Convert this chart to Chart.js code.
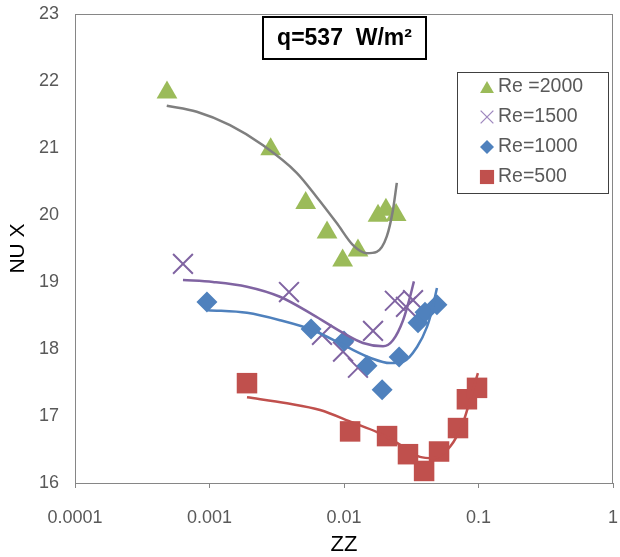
<!DOCTYPE html>
<html>
<head>
<meta charset="utf-8">
<script src="https://cdn.jsdelivr.net/npm/chart.js@4.4.1/dist/chart.umd.min.js"></script>
<style>
html,body{margin:0;padding:0;background:#fff;}
#wrap{width:620px;height:557px;position:relative;}
</style>
</head>
<body>
<div id="wrap"><canvas id="c" width="620" height="557"></canvas></div>
<script>
// ---- data ----
const seriesNames = ['Re =2000', 'Re=1500', 'Re=1000', 'Re=500'];
const titleText = 'q=537  W/m\u00B2';
const xTickValues = [0.0001, 0.001, 0.01, 0.1, 1];
const xTickLabels = ['0.0001', '0.001', '0.01', '0.1', '1'];

const zz2000 = [0.000483, 0.00285, 0.00519, 0.00748, 0.00977, 0.0127, 0.0179, 0.0205, 0.0244];
const nu2000 = [21.83, 20.98, 20.18, 19.74, 19.32, 19.47, 19.99, 20.08, 20.00];
const zz1500 = [0.000635, 0.0039, 0.00686, 0.00984, 0.0127, 0.01644, 0.0239, 0.0289, 0.0326];
const nu1500 = [19.27, 18.85, 18.21, 17.96, 17.72, 18.27, 18.72, 18.63, 18.73];
const zz1000 = [0.000957, 0.00569, 0.0100, 0.01483, 0.0192, 0.0257, 0.0355, 0.0400, 0.0491];
const nu1000 = [18.70, 18.30, 18.12, 17.75, 17.39, 17.88, 18.39, 18.55, 18.66];
const zz500 = [0.0019, 0.0111, 0.0209, 0.0299, 0.0394, 0.0509, 0.0704, 0.082, 0.0975];
const nu500 = [17.49, 16.77, 16.70, 16.43, 16.18, 16.47, 16.82, 17.25, 17.42];

// trend lines
const fitX2000 = [0.000481, 0.000804, 0.00142, 0.0025, 0.00445, 0.00626, 0.00883, 0.01167, 0.01475, 0.0175, 0.0208, 0.0231, 0.0247];
const fitY2000 = [21.63, 21.54, 21.34, 21.04, 20.63, 20.27, 19.88, 19.55, 19.43, 19.45, 19.68, 20.07, 20.48];
const fitX1500 = [0.000635, 0.00106, 0.0019, 0.00334, 0.00589, 0.00984, 0.01384, 0.0195, 0.0231, 0.0275, 0.031, 0.0331];
const fitY1500 = [19.03, 19.00, 18.93, 18.78, 18.51, 18.24, 18.09, 18.04, 18.13, 18.43, 18.78, 19.01];
const fitX1000 = [0.000975, 0.0019, 0.00334, 0.00589, 0.01052, 0.0156, 0.0220, 0.0275, 0.0349, 0.0414, 0.0451, 0.0491];
const fitY1000 = [18.58, 18.54, 18.43, 18.28, 18.03, 17.87, 17.79, 17.81, 18.03, 18.33, 18.58, 18.91];
const fitX500 = [0.0019, 0.00377, 0.00664, 0.01167, 0.0176, 0.0248, 0.0367, 0.0459, 0.0614, 0.0767, 0.091, 0.099];
const fitY500 = [17.28, 17.19, 17.09, 16.90, 16.76, 16.60, 16.39, 16.37, 16.54, 16.90, 17.39, 17.64];

const pts = (xs, ys) => xs.map((x, i) => ({x: x, y: ys[i]}));

const GREEN = '#9BBB59', PURPLE = '#8064A2', BLUE = '#4F81BD', RED = '#C0504D', GRAYLINE = '#7F7F7F';
const TXT = '#595959';
const FONT = "'Liberation Sans', Arial, sans-serif";

function trend(xs, ys, color) {
  return {type: 'line', data: pts(xs, ys), borderColor: color, borderWidth: 2.5, pointRadius: 0,
    fill: false, showLine: true, cubicInterpolationMode: 'monotone', order: 0};
}

const markerSets = [
  {label: seriesNames[0], data: pts(zz2000, nu2000), pointStyle: 'triangle', pointRadius: 12,
   backgroundColor: GREEN, borderColor: GREEN, borderWidth: 0, order: 4},
  {label: seriesNames[1], data: pts(zz1500, nu1500), pointStyle: 'crossRot', pointRadius: 14,
   backgroundColor: PURPLE, borderColor: PURPLE, borderWidth: 2, order: 3},
  {label: seriesNames[2], data: pts(zz1000, nu1000), pointStyle: 'rectRot', pointRadius: 10.5,
   backgroundColor: BLUE, borderColor: BLUE, borderWidth: 0, order: 2},
  {label: seriesNames[3], data: pts(zz500, nu500), pointStyle: 'rect', pointRadius: 14.5,
   backgroundColor: RED, borderColor: RED, borderWidth: 0, order: 1}
];

const frame = {
  id: 'frame',
  beforeDatasetsDraw(chart) {
    const {ctx, chartArea: a} = chart;
    ctx.save();
    ctx.strokeStyle = '#868686';
    ctx.lineWidth = 1;
    ctx.strokeRect(a.left + 0.5, a.top + 0.5, a.right - a.left - 1, a.bottom - a.top);
    ctx.restore();
  }
};

const boxes = {
  id: 'boxes',
  afterDraw(chart) {
    const ctx = chart.ctx;
    ctx.save();
    // title box
    ctx.strokeStyle = '#000';
    ctx.lineWidth = 2;
    ctx.fillStyle = '#fff';
    ctx.fillRect(263, 17, 163, 42);
    ctx.strokeRect(263, 17, 163, 42);
    ctx.fillStyle = '#000';
    ctx.font = "bold 23px " + FONT;
    ctx.textAlign = 'center';
    ctx.textBaseline = 'middle';
    ctx.fillText(titleText, 344.5, 39);
    // legend box
    ctx.lineWidth = 1;
    ctx.strokeStyle = '#404040';
    ctx.fillStyle = '#fff';
    ctx.fillRect(457.5, 72.5, 151, 121);
    ctx.strokeRect(457.5, 72.5, 151, 121);
    const rowY = [87, 117, 147, 177];
    const legendStyles = [
      {pointStyle: 'triangle', radius: 8, borderWidth: 0, rotation: 0},
      {pointStyle: 'crossRot', radius: 9, borderWidth: 1.3, rotation: 0},
      {pointStyle: 'rectRot', radius: 7, borderWidth: 0, rotation: 0},
      {pointStyle: 'rect', radius: 10, borderWidth: 0, rotation: 0}
    ];
    const legendColors = [GREEN, '#9F88BE', BLUE, RED];
    ctx.font = "19.5px " + FONT;
    ctx.textAlign = 'left';
    ctx.textBaseline = 'middle';
    for (let i = 0; i < 4; i++) {
      ctx.fillStyle = legendColors[i];
      ctx.strokeStyle = legendColors[i];
      ctx.lineWidth = legendStyles[i].borderWidth;
      Chart.helpers.drawPoint(ctx, legendStyles[i], 487, rowY[i] + (i === 0 ? 2 : 0));
      ctx.fillStyle = TXT;
      ctx.fillText(seriesNames[i], 498, rowY[i]);
    }
    ctx.restore();
  }
};

function noScalePadding(scale) {
  scale.paddingTop = 0; scale.paddingBottom = 0; scale.paddingLeft = 0; scale.paddingRight = 0;
}

new Chart(document.getElementById('c'), {
  type: 'scatter',
  data: {
    datasets: [
      trend(fitX2000, fitY2000, GRAYLINE),
      trend(fitX1500, fitY1500, PURPLE),
      trend(fitX1000, fitY1000, BLUE),
      trend(fitX500, fitY500, RED),
      ...markerSets
    ]
  },
  options: {
    responsive: false,
    animation: false,
    events: [],
    layout: {autoPadding: false, padding: {top: 14, right: 7, left: 0, bottom: 0}},
    plugins: {legend: {display: false}, tooltip: {enabled: false}, title: {display: false}},
    scales: {
      x: {
        type: 'logarithmic', min: 0.0001, max: 1,
        afterBuildTicks(scale) { scale.ticks = xTickValues.map(v => ({value: v, major: true})); },
        afterFit(scale) { scale.height = 74; noScalePadding(scale); },
        ticks: {
          color: TXT, font: {family: FONT, size: 18}, padding: 19, maxRotation: 0, autoSkip: false,
          callback(value) { const i = xTickValues.indexOf(value); return i >= 0 ? xTickLabels[i] : ''; }
        },
        grid: {display: true, drawOnChartArea: false, drawTicks: true, tickLength: 5, color: '#868686'},
        border: {display: true, color: '#868686', width: 1},
        title: {display: true, text: 'ZZ', color: '#000', font: {family: FONT, size: 22, lineHeight: 1}, padding: {top: 0, bottom: 1}}
      },
      y: {
        min: 16, max: 23,
        afterFit(scale) { scale.width = 75; noScalePadding(scale); },
        ticks: {stepSize: 1, color: TXT, font: {family: FONT, size: 18}, padding: 16},
        grid: {display: false, drawTicks: false},
        border: {display: true, color: '#868686', width: 1},
        title: {display: true, text: 'NU X', color: '#000', font: {family: FONT, size: 21, lineHeight: 1}, padding: {top: 8, bottom: 0}}
      }
    }
  },
  plugins: [frame, boxes]
});
</script>
</body>
</html>
